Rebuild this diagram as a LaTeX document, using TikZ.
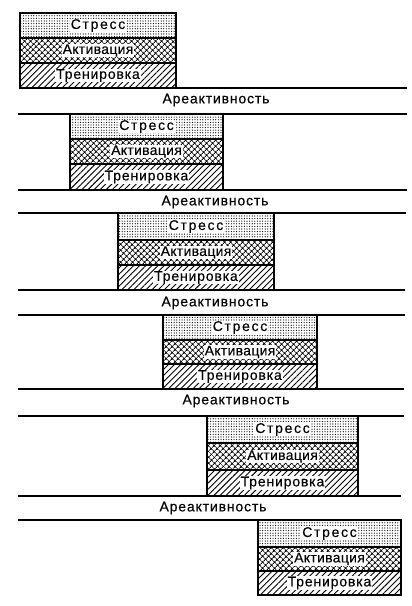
\documentclass[tikz,border=0pt]{standalone}
\usepackage{fontspec}
\setmainfont{Liberation Sans}
\newfontfamily\lsA[LetterSpace=6,FakeBold=0.3]{Liberation Sans}
\newfontfamily\lsS[LetterSpace=12,FakeBold=0.3]{Liberation Sans}
\newfontfamily\lsK[LetterSpace=2,FakeBold=0.3]{Liberation Sans}
\usetikzlibrary{patterns.meta}
\tikzset{
  stressfill/.style={pattern={Dots[radius=0.6pt,distance=2.6pt]}},
  actfill/.style={pattern={Hatch[angle=45,distance=4pt,line width=1pt]}},
  trainfill/.style={pattern={Lines[angle=45,distance=4.3pt,line width=0.9pt]}},
  bandedge/.style={line width=1.4pt},
  levelline/.style={line width=1.4pt},
  bandtext/.style={fill=white,inner xsep=1pt,inner ysep=0.5pt,font=\fontsize{14}{15}\selectfont},
  leveltext/.style={inner sep=0pt,font=\lsA\fontsize{14}{15}\selectfont}
}
\begin{document}
\begin{tikzpicture}[x=1pt,y=-1pt]
\useasboundingbox (0,0) rectangle (412,606);
\fill[white] (0,0) rectangle (412,606);
\foreach \n/\xa/\xb/\ya/\yb/\yc/\yd in {1/20/176/13/38/63/88,2/70/223/114/139/164/190,3/118/274/213/240/265/290,4/163/317/315/340/364/389,5/207/358/416/443/470/496,6/258/401/520/547/571/595}{
  \path[stressfill] (\xa,\ya) rectangle (\xb,\yb);
  \path[actfill] (\xa,\yb) rectangle (\xb,\yc);
  \path[trainfill] (\xa,\yc) rectangle (\xb,\yd);
  \draw[bandedge] (\xa,\ya) rectangle (\xb,\yd);
  \draw[bandedge] (\xa,\yb) -- (\xb,\yb);
  \draw[bandedge] (\xa,\yc) -- (\xb,\yc);
  \node[bandtext] (s\n) at ({(\xa+\xb)/2},{(\ya+\yb)/2}) {\lsS Стресс};
  \node[bandtext] (a\n) at ({(\xa+\xb)/2},{(\yb+\yc)/2}) {\lsK Активация};
  \node[bandtext] (t\n) at ({(\xa+\xb)/2},{(\yc+\yd)/2}) {\lsA Тренировка};
}
\draw[levelline] (176,88) -- (407,88);
\foreach \y/\e in {114/407,190/407,213/406,290/405,315/405,389/404,416/404,496/401,520/260}{
  \draw[levelline] (18,\y) -- (\e,\y);
}
\foreach \n/\x/\y in {1/216/100,2/215/202,3/215/303,4/236/401,5/213/508}{
  \node[leveltext] (r\n) at (\x,\y) {Ареактивность};
}
\end{tikzpicture}
\end{document}
